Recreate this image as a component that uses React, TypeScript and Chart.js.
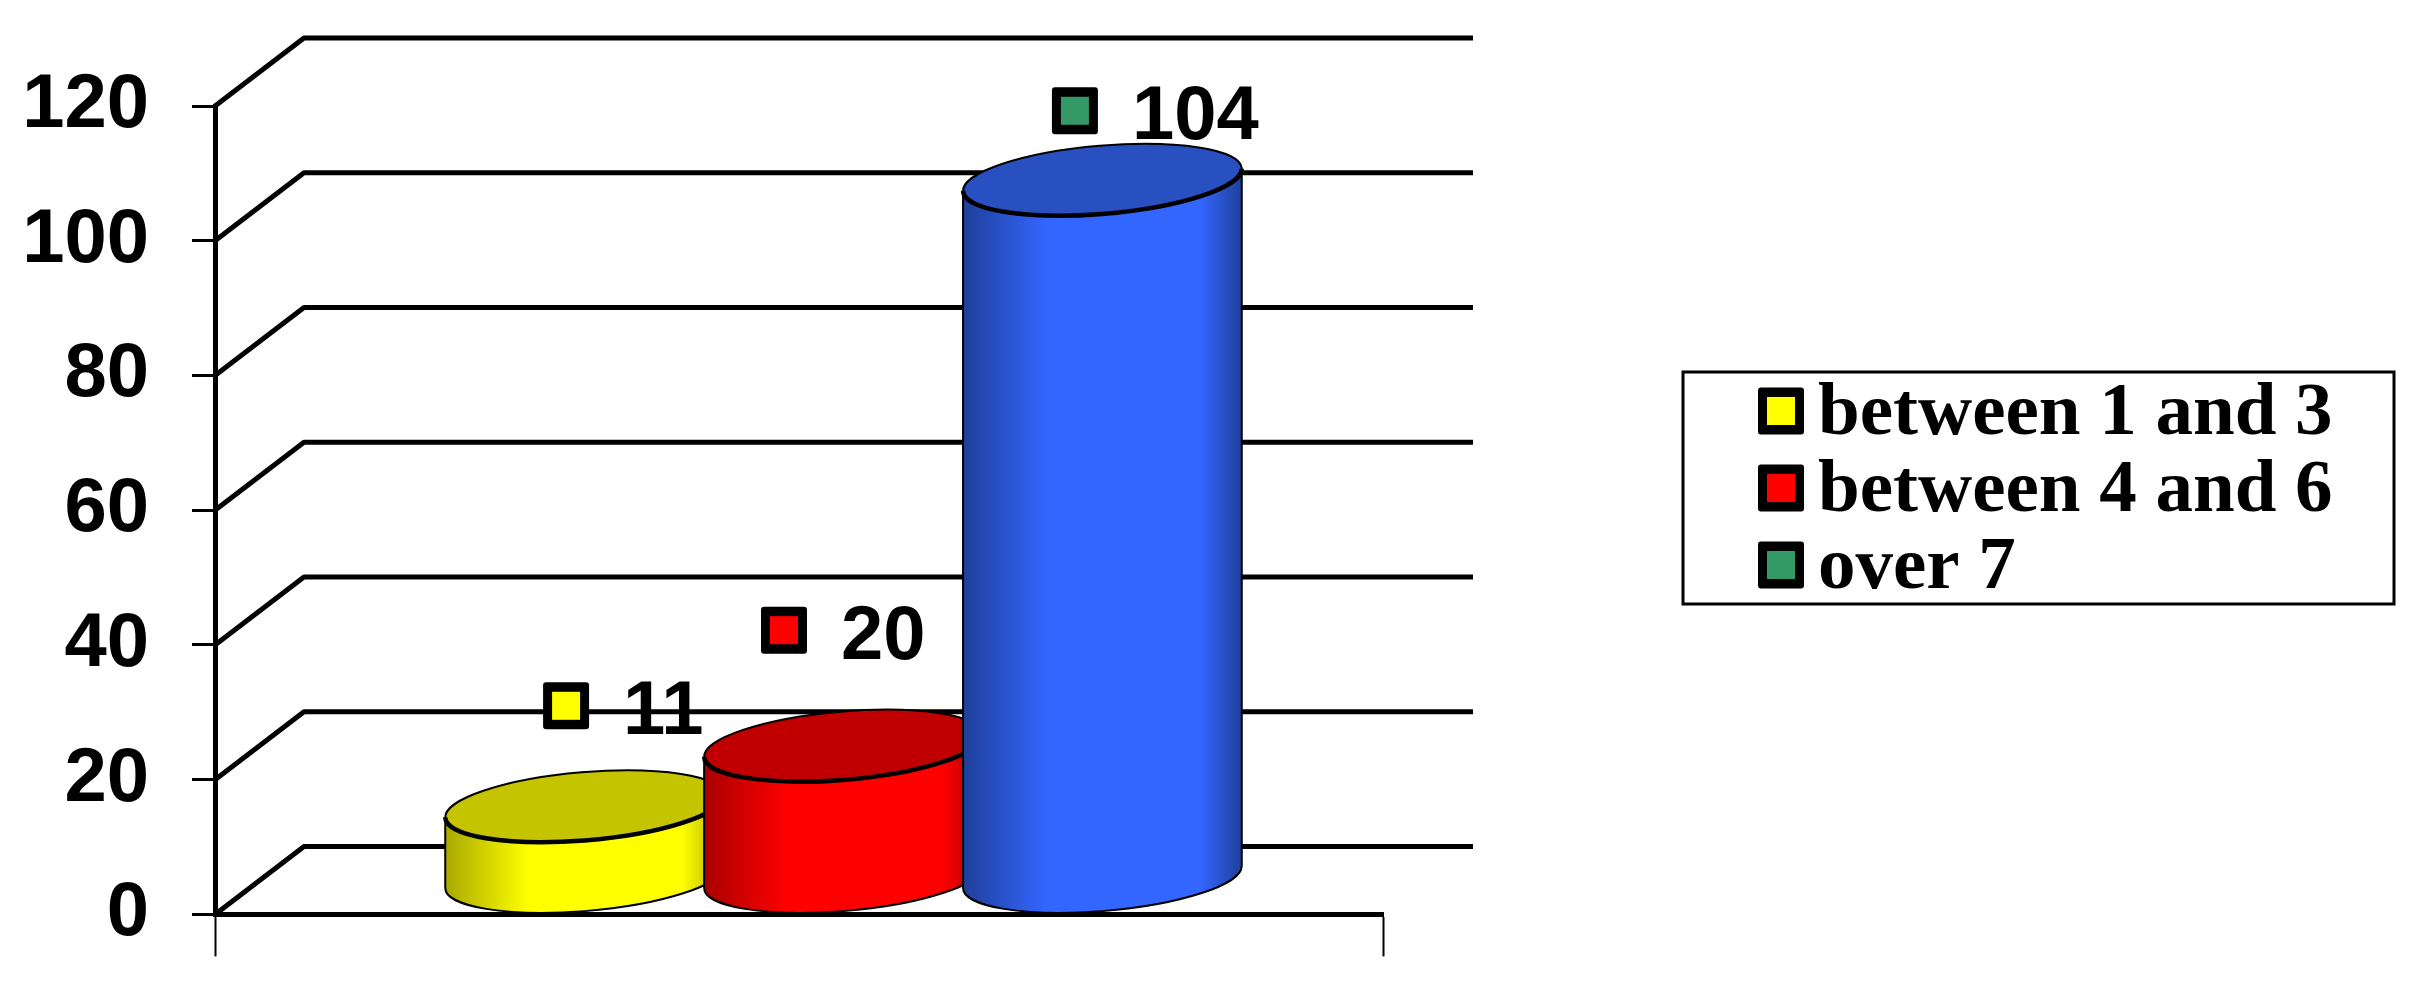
import { useEffect, useRef } from 'react';
import { Chart, registerables } from 'chart.js';

Chart.register(...registerables);

const CATEGORIES = [''];
const SERIES_NAMES = ['between 1 and 3', 'between 4 and 6', 'over 7'];
const SERIES_VALUES = [11, 20, 104];

// bar faces
const BODY_COLORS = ['#ffff00', '#ff0000', '#3366ff'];
const EDGE_COLORS = ['#a8a800', '#a80000', '#1f3f99'];
const TOP_COLORS = ['#c4c400', '#c00000', '#2850c0'];
// the markers do not follow the bars on the last series, same as the original
const MARKER_COLORS = ['#ffff00', '#ff0000', '#339966'];

// marker centre, relative to the top of the flat bar
const LABEL_OFFSETS = [
  [26, -134.5],
  [-15, -149.5],
  [17, -103],
];

const DEPTH_X = 89;
const DEPTH_Y = 68;
const WALL_RIGHT = 1473;
const TILT = (-4.8 * Math.PI) / 180;

const VALUE_FONT = 'bold 76px "Liberation Sans"';
const LEGEND_FONT = 'bold 75px "Liberation Serif"';

function drawMarker(ctx: CanvasRenderingContext2D, cx: number, cy: number, color: string) {
  ctx.fillStyle = '#000';
  ctx.beginPath();
  ctx.roundRect(cx - 23, cy - 23.5, 46, 47, 3);
  ctx.fill();
  ctx.fillStyle = color;
  ctx.fillRect(cx - 14, cy - 14, 28, 28);
}

function drawCylinder(
  ctx: CanvasRenderingContext2D,
  cx: number,
  width: number,
  topY: number,
  baseY: number,
  i: number,
) {
  const a = width / 2;
  const b = width * 0.122;
  const t = Math.atan((b / a) * Math.tan(-TILT));

  const grad = ctx.createLinearGradient(cx - a, 0, cx + a, 0);
  grad.addColorStop(0, EDGE_COLORS[i]);
  grad.addColorStop(0.3, BODY_COLORS[i]);
  grad.addColorStop(0.85, BODY_COLORS[i]);
  grad.addColorStop(1, EDGE_COLORS[i]);

  ctx.beginPath();
  ctx.ellipse(cx, baseY, a, b, TILT, t, Math.PI + t);
  ctx.ellipse(cx, topY, a, b, TILT, Math.PI + t, t, true);
  ctx.closePath();
  ctx.fillStyle = grad;
  ctx.fill();
  ctx.strokeStyle = '#000';
  ctx.lineWidth = 2;
  ctx.stroke();

  ctx.beginPath();
  ctx.ellipse(cx, topY, a, b, TILT, 0, Math.PI * 2);
  ctx.fillStyle = TOP_COLORS[i];
  ctx.fill();
  ctx.lineWidth = 2;
  ctx.stroke();

  ctx.beginPath();
  ctx.ellipse(cx, topY, a, b, TILT, t, Math.PI + t);
  ctx.lineWidth = 4.5;
  ctx.stroke();
}

const wallPlugin = {
  id: 'wall',
  beforeDatasetsDraw(chart: any) {
    const { ctx, scales } = chart;
    const left = scales.x.left;
    ctx.save();
    ctx.strokeStyle = '#000';
    ctx.lineWidth = 5;
    ctx.lineJoin = 'round';
    scales.y.ticks.forEach((tick: any) => {
      const y = scales.y.getPixelForValue(tick.value);
      ctx.beginPath();
      ctx.moveTo(left, y);
      ctx.lineTo(left + DEPTH_X, y - DEPTH_Y);
      ctx.lineTo(WALL_RIGHT, y - DEPTH_Y);
      ctx.stroke();
    });
    ctx.restore();
  },
};

const cylinderPlugin = {
  id: 'cylinders',
  afterDatasetsDraw(chart: any) {
    const { ctx } = chart;
    ctx.save();
    chart.data.datasets.forEach((_: any, i: number) => {
      const bar = chart.getDatasetMeta(i).data[0];
      const { x, y, base, width } = bar.getProps(['x', 'y', 'base', 'width'], true);
      drawCylinder(ctx, x + DEPTH_X / 2, width, y - DEPTH_Y / 2, base - DEPTH_Y / 2 - 3, i);
    });
    ctx.restore();
  },
  afterDraw(chart: any) {
    const { ctx } = chart;
    ctx.save();

    // value labels with their little markers
    chart.data.datasets.forEach((ds: any, i: number) => {
      const bar = chart.getDatasetMeta(i).data[0];
      const { x, y } = bar.getProps(['x', 'y'], true);
      const cx = x + LABEL_OFFSETS[i][0];
      const cy = y + LABEL_OFFSETS[i][1];
      drawMarker(ctx, cx, cy, MARKER_COLORS[i]);
      ctx.fillStyle = '#000';
      ctx.font = VALUE_FONT;
      ctx.textAlign = 'left';
      ctx.textBaseline = 'alphabetic';
      ctx.fillText(String(ds.data[0]), cx + 57, cy + 28.5);
    });

    // legend box
    ctx.strokeStyle = '#000';
    ctx.lineWidth = 3;
    ctx.strokeRect(1683, 372, 711, 232);
    ctx.font = LEGEND_FONT;
    SERIES_NAMES.forEach((name, i) => {
      const cy = 411 + i * 77;
      drawMarker(ctx, 1781, cy, MARKER_COLORS[i]);
      ctx.fillStyle = '#000';
      ctx.fillText(name, 1818, cy + 23);
    });
    ctx.restore();
  },
};

export default function App() {
  const canvasRef = useRef<HTMLCanvasElement>(null);

  useEffect(() => {
    if (!canvasRef.current) return;
    document.body.style.margin = '0';

    const chart = new Chart(canvasRef.current, {
      type: 'bar',
      data: {
        labels: CATEGORIES,
        datasets: SERIES_NAMES.map((name, i) => ({
          label: name,
          data: [SERIES_VALUES[i]],
          backgroundColor: 'transparent',
          categoryPercentage: 0.665,
          barPercentage: 1.08,
        })),
      },
      options: {
        responsive: false,
        animation: false,
        devicePixelRatio: 1,
        layout: { padding: { top: 106, right: 1053, bottom: 0, left: 0 } },
        plugins: { legend: { display: false }, tooltip: { enabled: false } },
        scales: {
          x: {
            afterFit: (scale: any) => {
              scale.height = 80;
            },
            grid: {
              offset: true,
              drawOnChartArea: false,
              tickLength: 42,
              tickWidth: 2,
              tickColor: '#000',
            },
            border: { color: '#000', width: 5 },
            ticks: { display: false },
          },
          y: {
            min: 0,
            max: 120,
            afterFit: (scale: any) => {
              scale.width = 215;
            },
            grid: {
              drawOnChartArea: false,
              tickLength: 23,
              tickWidth: 3,
              tickColor: '#000',
            },
            border: { color: '#000', width: 5 },
            ticks: {
              stepSize: 20,
              padding: 43,
              color: '#000',
              font: { family: '"Liberation Sans"', size: 76, weight: 'bold' },
            },
          },
        },
      },
      plugins: [wallPlugin, cylinderPlugin],
    });

    return () => chart.destroy();
  }, []);

  return <canvas ref={canvasRef} width={2436} height={1003} style={{ display: 'block' }} />;
}
